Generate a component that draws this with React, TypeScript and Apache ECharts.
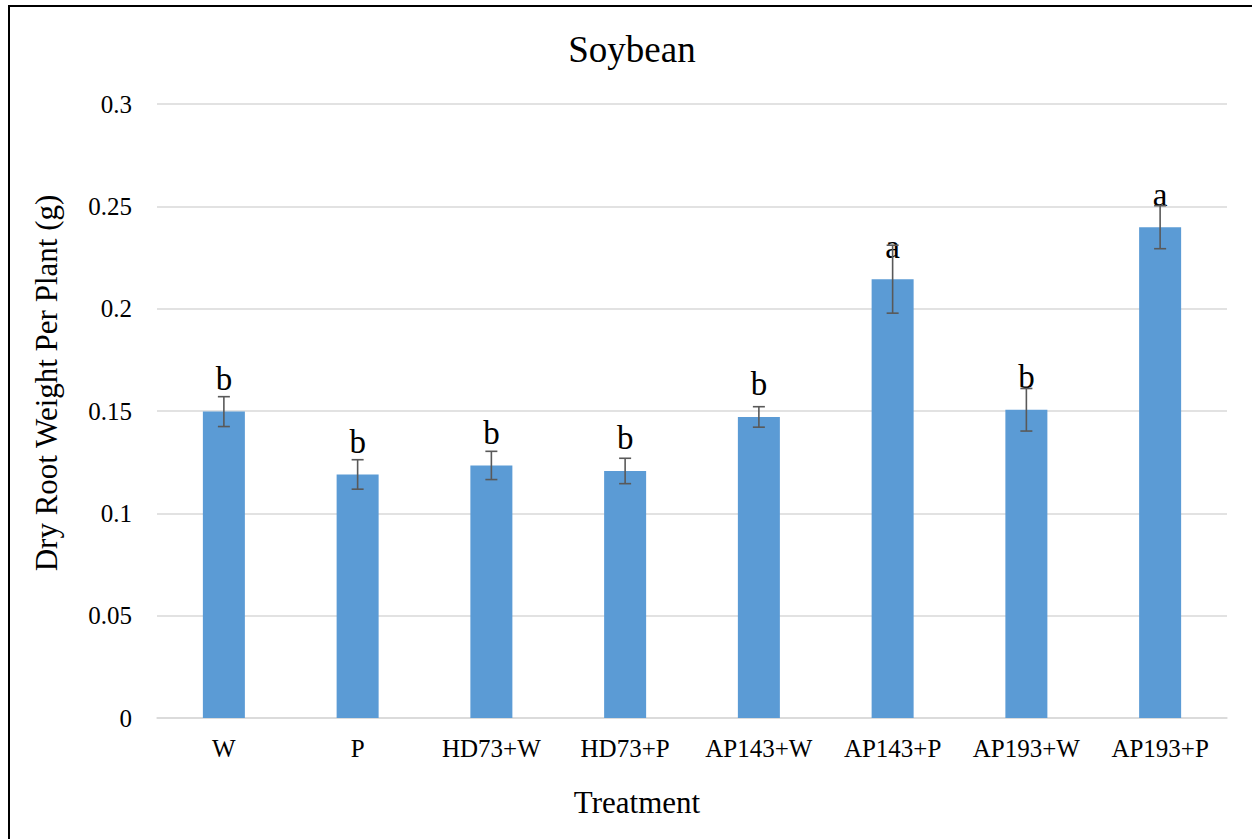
import React, { useEffect, useRef } from "react";
import * as echarts from "echarts";

const categories = ["W", "P", "HD73+W", "HD73+P", "AP143+W", "AP143+P", "AP193+W", "AP193+P"];
const means = [0.1497, 0.119, 0.1234, 0.1207, 0.1471, 0.2144, 0.1506, 0.2398];
const errors = [0.0073, 0.0072, 0.0069, 0.0062, 0.005, 0.0166, 0.0104, 0.0105];
const letters = ["b", "b", "b", "b", "b", "a", "b", "a"];
const yTicks = { min: 0, max: 0.3, interval: 0.05 };

const FONT = "Liberation Serif";

export default function App() {
  const ref = useRef<HTMLDivElement>(null);
  useEffect(() => {
    if (!ref.current) return;
    const chart = echarts.init(ref.current, null, { renderer: "svg" });
    const errData = means.map((m, i) => [i, m - errors[i], m + errors[i]]);
    chart.setOption({
      animation: false,
      backgroundColor: "#ffffff",
      textStyle: { fontFamily: FONT },
      grid: { left: 157, top: 104, width: 1070, height: 614 },
      xAxis: {
        type: "category",
        data: categories,
        axisLine: { lineStyle: { color: "#d9d9d9", width: 1.5 } },
        axisTick: { show: false },
        axisLabel: { color: "#000", fontFamily: FONT, fontSize: 25, margin: 18, interval: 0 },
      },
      yAxis: {
        type: "value",
        min: yTicks.min,
        max: yTicks.max,
        interval: yTicks.interval,
        axisLine: { show: false },
        axisTick: { show: false },
        splitLine: { lineStyle: { color: "#d9d9d9", width: 1.5 } },
        axisLabel: { color: "#000", fontFamily: FONT, fontSize: 25, margin: 25 },
      },
      series: [
        {
          type: "bar",
          data: means,
          barWidth: 42,
          itemStyle: { color: "#5b9bd5" },
          label: {
            show: true,
            position: "top",
            distance: 16,
            color: "#000",
            fontFamily: FONT,
            fontSize: 33,
            formatter: (p: any) => letters[p.dataIndex],
          },
          z: 2,
        },
        {
          type: "custom",
          data: errData,
          z: 3,
          renderItem: (params: any, api: any) => {
            const x = api.value(0);
            const lo = api.coord([x, api.value(1)]);
            const hi = api.coord([x, api.value(2)]);
            const cap = 6;
            const style = { stroke: "#595959", lineWidth: 1.6 };
            return {
              type: "group",
              children: [
                { type: "line", shape: { x1: lo[0], y1: lo[1], x2: hi[0], y2: hi[1] }, style },
                { type: "line", shape: { x1: lo[0] - cap, y1: lo[1], x2: lo[0] + cap, y2: lo[1] }, style },
                { type: "line", shape: { x1: hi[0] - cap, y1: hi[1], x2: hi[0] + cap, y2: hi[1] }, style },
              ],
            };
          },
        },
      ],
      graphic: [
        {
          type: "rect",
          shape: { x: 9, y: 6, width: 1300, height: 900 },
          style: { fill: "none", stroke: "#000", lineWidth: 2 },
          silent: true,
        },
        {
          type: "text",
          x: 632,
          y: 49,
          style: {
            text: "Soybean",
            fontFamily: FONT,
            fontSize: 37,
            fill: "#000",
            textAlign: "center",
            verticalAlign: "middle",
          },
        },
        {
          type: "text",
          x: 637,
          y: 802,
          style: {
            text: "Treatment",
            fontFamily: FONT,
            fontSize: 31,
            fill: "#000",
            textAlign: "center",
            verticalAlign: "middle",
          },
        },
        {
          type: "text",
          x: 46,
          y: 383,
          rotation: Math.PI / 2,
          style: {
            text: "Dry Root Weight Per Plant (g)",
            fontFamily: FONT,
            fontSize: 31,
            fill: "#000",
            textAlign: "center",
            verticalAlign: "middle",
          },
        },
      ],
    });
    return () => chart.dispose();
  }, []);
  return (
    <div
      ref={ref}
      style={{ position: "absolute", left: 0, top: 0, width: 1252, height: 839 }}
    />
  );
}
